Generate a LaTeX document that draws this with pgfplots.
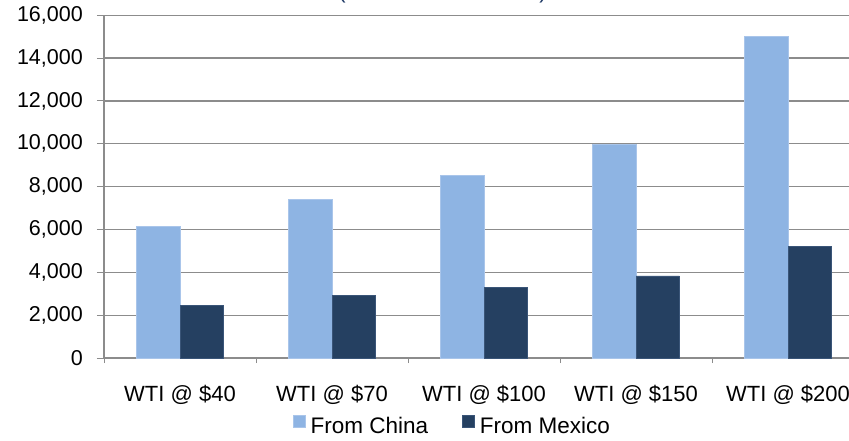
\documentclass[border=0pt]{standalone}
\usepackage{pgfplots}
\pgfplotsset{compat=1.18}
\usepackage{fontspec}
\setmainfont{Liberation Sans}
\definecolor{china}{HTML}{8EB4E3}
\definecolor{chinaedge}{HTML}{A9C5EA}
\definecolor{mexico}{HTML}{254061}
\definecolor{mexicoedge}{HTML}{3A5578}
\definecolor{gridgray}{HTML}{8C8C8C}
\definecolor{titleblue}{HTML}{1F3A66}
\begin{document}
\begin{tikzpicture}[x=1pt,y=1pt]
\clip (0,0) rectangle (849,440);
\path[fill=white] (0,0) rectangle (849,440);
\node[anchor=base, text=titleblue, font=\fontsize{22}{26}\selectfont] at (342,441) {(};
\node[anchor=base, text=titleblue, font=\fontsize{22}{26}\selectfont] at (543,441) {)};
\begin{axis}[
  at={(104pt,82pt)}, anchor=south west,
  scale only axis,
  width=760pt, height=342.7pt,
  xmin=-0.5, xmax=4.5,
  ymin=0, ymax=16000,
  ytick={0,2000,...,16000},
  scaled y ticks=false,
  /pgf/number format/.cd, fixed, 1000 sep={,}, assume math mode=true,
  /pgfplots/.cd,
  xtick={0,1,2,3,4},
  xticklabels={WTI @ \$40, WTI @ \$70, WTI @ \$100, WTI @ \$150, WTI @ \$200},
  minor xtick={-0.5,0.5,1.5,2.5,3.5,4.5},
  tick align=outside,
  major tick length=7pt,
  minor tick length=5pt,
  x tick style={draw=none},
  minor x tick style={draw=gridgray, line width=1pt},
  y tick style={draw=gridgray, line width=1pt},
  axis lines*=left,
  axis line style={draw=gridgray, line width=1.3pt},
  ymajorgrids,
  grid style={draw=gridgray, line width=1.3pt},
  xticklabel style={font=\fontsize{22}{26}\selectfont, anchor=base, yshift=-36pt},
  yticklabel style={font=\fontsize{21.5}{25}\selectfont, anchor=east, inner sep=0pt, xshift=-14pt},
  ybar=0pt,
  bar width=0.286,
  legend columns=2,
  legend style={at={(0.457,-0.196)}, anchor=center, draw=none, fill=none,
    font=\fontsize{22.5}{26}\selectfont, inner sep=0pt,
    nodes={inner sep=0pt},
    /tikz/every odd column/.append style={column sep=5pt},
    /tikz/every even column/.append style={column sep=34pt}},
  legend image code/.code={\fill[#1] (0pt,-1pt) rectangle (12pt,11pt);},
  clip=false,
]
\addplot[fill=china, draw=chinaedge, line width=0.8pt] coordinates {(0,6150) (1,7400) (2,8520) (3,9960) (4,15000)};
\addlegendentry{From China}
\addplot[fill=mexico, draw=mexicoedge, line width=0.8pt] coordinates {(0,2450) (1,2910) (2,3300) (3,3830) (4,5190)};
\addlegendentry{From Mexico}
\end{axis}
\end{tikzpicture}
\end{document}
